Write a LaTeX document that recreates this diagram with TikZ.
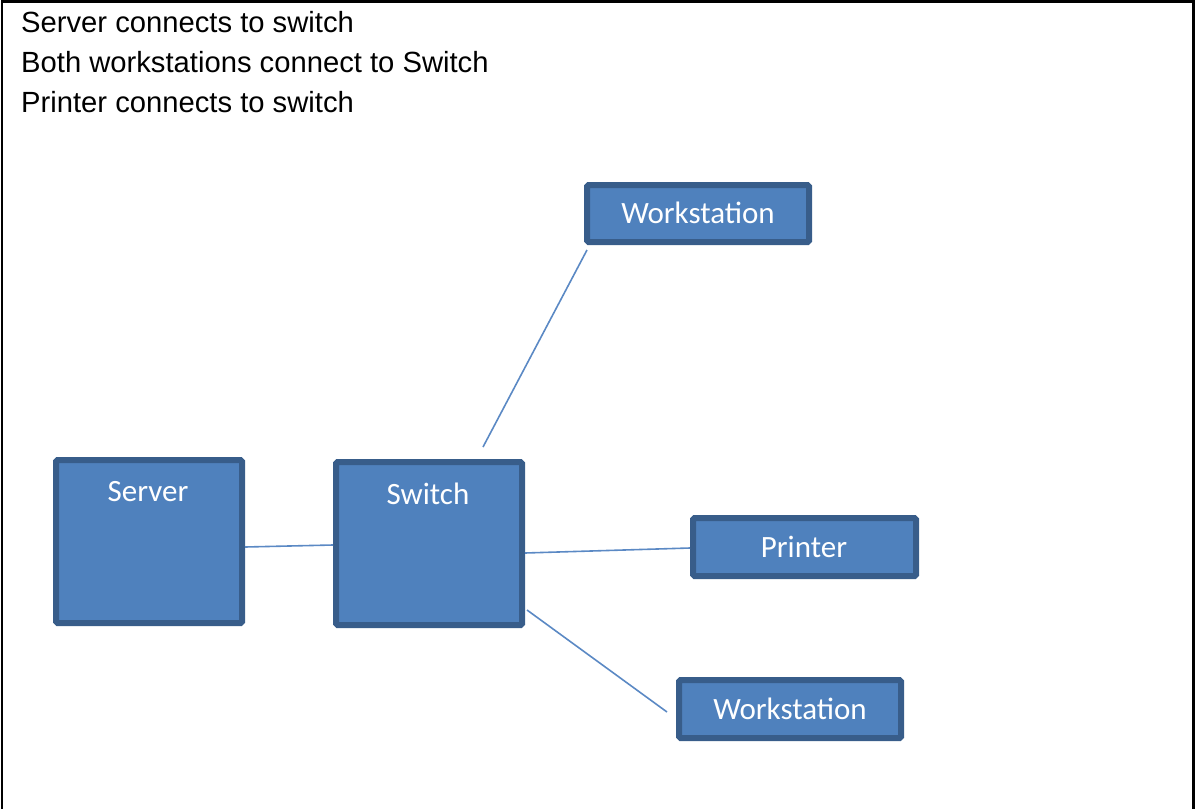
\documentclass[tikz,border=0pt]{standalone}
\usepackage{fontspec}
\setmainfont{Liberation Sans}
\newfontfamily\boxfont{Carlito}
\definecolor{boxfill}{HTML}{4F81BD}
\definecolor{boxline}{HTML}{385D8A}
\definecolor{wire}{HTML}{5B89C4}
\tikzset{
  box/.style={draw=boxline, fill=boxfill, line width=6pt, rounded corners=1.5pt, inner sep=0pt},
  boxtext/.style={text=white, font=\boxfont\fontsize{31pt}{36pt}\selectfont, inner sep=0pt},
  note/.style={anchor=base west, font=\fontsize{29.2pt}{33pt}\selectfont, inner sep=0pt},
  wireline/.style={draw=wire, line width=1.6pt}
}
\begin{document}
\begin{tikzpicture}[x=1pt,y=-1pt]
\useasboundingbox (0,0) rectangle (1195,809);
\draw[line width=2.5pt] (2,809) -- (2,1.5) -- (1193.5,1.5) -- (1193.5,809);
\node[note] (t1) at (21,32) {Server connects to switch};
\node[note] (t2) at (21,72) {Both workstations connect to Switch};
\node[note] (t3) at (21,112) {Printer connects to switch};

\node[box, minimum width=186pt, minimum height=163pt] (server) at (149,541.5) {};
\node[box, minimum width=186pt, minimum height=163pt] (switch) at (429,543.5) {};
\node[box, minimum width=222pt, minimum height=57pt] (wstop) at (698,213.5) {};
\node[box, minimum width=223pt, minimum height=58pt] (printer) at (804.5,547) {};
\node[box, minimum width=222pt, minimum height=58pt] (wsbot) at (790,709) {};

\node[boxtext] (serverlbl) at (148,492) {Server};
\node[boxtext] (switchlbl) at (428,494) {Switch};
\node[boxtext] (wstoplbl) at (698,213) {Workstation};
\node[boxtext] (printerlbl) at (804,547) {Printer};
\node[boxtext] (wsbotlbl) at (790,709) {Workstation};

\coordinate (topfree) at (483,447);
\coordinate (topend) at (587,250);
\coordinate (botfree) at (667,712);

\draw[wireline] ([yshift=-5.5pt]server.east) -- ([yshift=-1.5pt]switch.west);
\draw[wireline] ([yshift=-9.5pt]switch.east) -- ([yshift=-1pt]printer.west);
\draw[wireline] ([yshift=-66.5pt,xshift=2pt]switch.east) -- (botfree);
\draw[wireline] (topfree) -- (topend);
\end{tikzpicture}
\end{document}
